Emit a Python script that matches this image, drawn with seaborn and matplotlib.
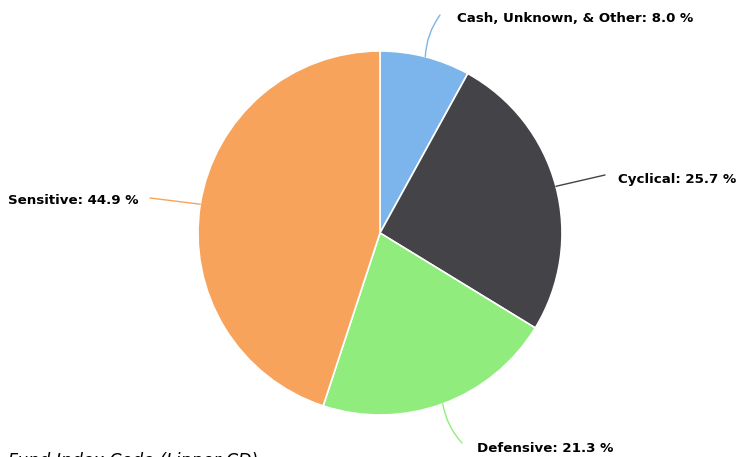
import matplotlib
matplotlib.use("Agg")
import matplotlib.pyplot as plt
import seaborn as sns
import numpy as np

categories = ["Cash, Unknown, & Other", "Cyclical", "Defensive", "Sensitive"]
values = [8.0, 25.7, 21.3, 44.9]
colors = ["#7cb5ec", "#434348", "#90ed7d", "#f7a35c"]
footer = "Fund Index Code (Lipper CD)"

sns.set_theme(style="white")
plt.rcParams['font.family'] = ['DejaVu Sans']

W, H = 743, 457
fig = plt.figure(figsize=(W / 100, H / 100), dpi=100)
ax = fig.add_axes([0, 0, 1, 1])

cx, cy, r = 380, 224, 182
wedges, _ = ax.pie(values, colors=sns.color_palette(colors), startangle=90,
                   counterclock=False, center=(cx, cy), radius=r,
                   wedgeprops=dict(edgecolor='white', linewidth=1.2),
                   frame=True)
ax.set_xlim(0, W)
ax.set_ylim(0, H)
ax.set_aspect('equal')
ax.axis('off')

# label layout: (connector end, text position, ha, rad)
layout = [
    ((440, 442), (457, 439), 'left', 0.15),
    ((605, 282), (618, 278), 'left', 0.0),
    ((462, 14), (477, 9), 'left', -0.15),
    ((150, 259), (138, 256), 'right', 0.0),
]

cum = 0.0
total = sum(values)
for cat, val, col, (end, tpos, ha, rad) in zip(categories, values, colors, layout):
    mid = 90 - 360 * (cum + val / 2) / total
    cum += val
    sx = cx + r * np.cos(np.radians(mid))
    sy = cy + r * np.sin(np.radians(mid))
    ax.annotate("", xy=(sx, sy), xytext=end,
                arrowprops=dict(arrowstyle='-', color=col, lw=1,
                                connectionstyle=f"arc3,rad={rad}",
                                shrinkA=0, shrinkB=0))
    ax.text(tpos[0], tpos[1], f"{cat}: {val:.1f} %", ha=ha, va='center',
            fontsize=9.6, fontweight='bold', color='black')

ax.text(8, 5, footer, ha='left', va='top', fontsize=12.5, style='italic',
        color='black')

fig.savefig("out.png", dpi=100, facecolor='white')
